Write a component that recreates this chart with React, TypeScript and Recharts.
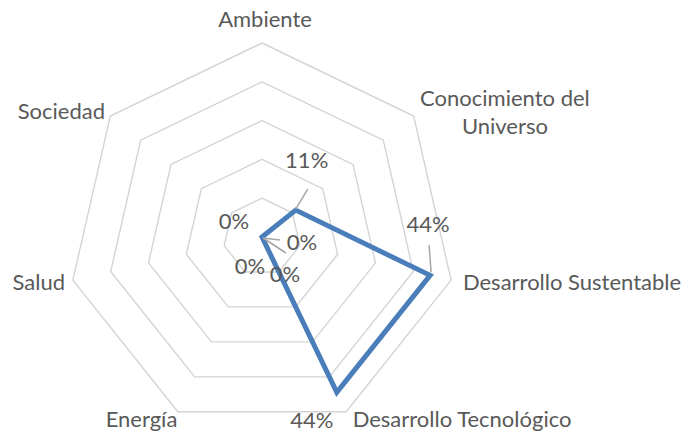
import React from 'react';
import { RadarChart, Radar, PolarGrid, PolarAngleAxis, PolarRadiusAxis, LabelList } from 'recharts';

// categories clockwise from the top, share of projects per area (%)
const CATEGORIES = [
  'Ambiente',
  'Conocimiento del Universo',
  'Desarrollo Sustentable',
  'Desarrollo Tecnológico',
  'Energía',
  'Salud',
  'Sociedad',
];
const VALUES = [0, 11.11, 44.44, 44.44, 0, 0, 0];
const RADIUS_TICKS = [0, 10, 20, 30, 40, 50];

const data = CATEGORIES.map((name, i) => ({ name, value: VALUES[i] }));

const FONT = 'Lato, "Open Sans", sans-serif';
const FONT_SIZE = 22;
const TEXT_COLOR = '#595959';
const LINE_COLOR = '#4a7ebb';

// where each category name sits relative to its tick point
const TICK_LAYOUT: Record<string, { anchor: 'start' | 'middle' | 'end'; dx: number; dy: number; lines?: string[] }> = {
  'Ambiente': { anchor: 'middle', dx: 3, dy: -17 },
  'Conocimiento del Universo': { anchor: 'middle', dx: 85, dy: 0, lines: ['Conocimiento del', 'Universo'] },
  'Desarrollo Sustentable': { anchor: 'start', dx: 4, dy: -1 },
  'Desarrollo Tecnológico': { anchor: 'start', dx: 3, dy: -1 },
  'Energía': { anchor: 'end', dx: 3, dy: -1 },
  'Salud': { anchor: 'end', dx: 0, dy: -1 },
  'Sociedad': { anchor: 'end', dx: 1, dy: -1 },
};

// data label offsets from the point, plus optional leader line
const LABEL_LAYOUT = [
  { dx: 40, dy: 4, leader: [1, 1, 18, 3] },
  { dx: 11, dy: -51, leader: [0, -1, 12, -21] },
  { dx: -2, dy: -52, leader: [-1, -30, 1, -3] },
  { dx: -25, dy: 27 },
  { dx: -12, dy: 28 },
  { dx: 23, dy: 36, leader: [1, 1, 24, 16] },
  { dx: -28, dy: -17 },
];

const CategoryTick = (props: any) => {
  const { x, y, payload } = props;
  const lay = TICK_LAYOUT[payload.value] || { anchor: 'middle', dx: 0, dy: 0 };
  const lines = lay.lines || [payload.value];
  const start = -((lines.length - 1) * 28) / 2;
  return (
    <text
      x={x + lay.dx}
      y={y + lay.dy}
      textAnchor={lay.anchor}
      fill={TEXT_COLOR}
      fontSize={FONT_SIZE}
      fontFamily={FONT}
      dominantBaseline="central"
    >
      {lines.map((line, i) => (
        <tspan key={i} x={x + lay.dx} y={y + lay.dy + start + i * 28}>
          {line}
        </tspan>
      ))}
    </text>
  );
};

const DataLabel = (props: any) => {
  const { x, y, value, index } = props;
  const lay: any = LABEL_LAYOUT[index] || { dx: 0, dy: -15 };
  return (
    <g>
      {lay.leader && (
        <line
          x1={x + lay.leader[0]}
          y1={y + lay.leader[1]}
          x2={x + lay.leader[2]}
          y2={y + lay.leader[3]}
          stroke="#a6a6a6"
          strokeWidth={1.5}
        />
      )}
      <text
        x={x + lay.dx}
        y={y + lay.dy}
        textAnchor="middle"
        dominantBaseline="central"
        fill={TEXT_COLOR}
        fontSize={FONT_SIZE}
        fontFamily={FONT}
      >
        {`${Math.round(value)}%`}
      </text>
    </g>
  );
};

const App: React.FC = () => {
  return (
    <div style={{ position: 'absolute', left: 0, top: 0, background: '#fff' }}>
      <RadarChart
        width={685}
        height={433}
        data={data}
        cx={262}
        cy={237}
        outerRadius={194}
        margin={{ top: 0, right: 0, bottom: 0, left: 0 }}
      >
        <PolarGrid gridType="polygon" radialLines={false} stroke="#d4d4d4" strokeWidth={1.4} />
        <PolarAngleAxis dataKey="name" tick={<CategoryTick />} tickLine={false} axisLine={false} />
        <PolarRadiusAxis
          type="number"
          domain={[0, 50]}
          allowDataOverflow
          ticks={RADIUS_TICKS}
          tickCount={6}
          tick={false}
          axisLine={false}
          angle={90}
        />
        <Radar
          dataKey="value"
          stroke={LINE_COLOR}
          strokeWidth={5}
          strokeLinejoin="miter"
          fill="none"
          fillOpacity={0}
          dot={false}
          isAnimationActive={false}
        >
          <LabelList dataKey="value" content={<DataLabel />} />
        </Radar>
      </RadarChart>
    </div>
  );
};

export default App;
